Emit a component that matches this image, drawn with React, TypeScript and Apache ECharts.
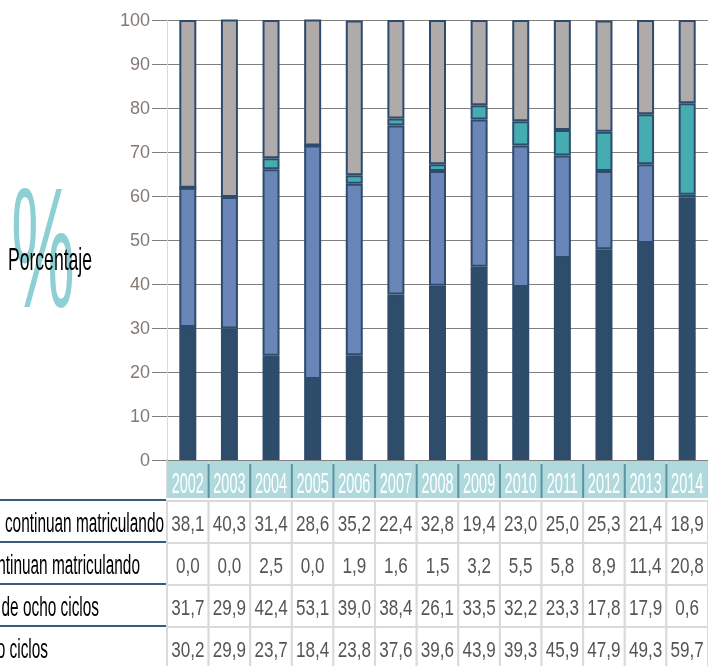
import React, { useEffect, useRef } from "react";
import * as echarts from "echarts";

const years = ["2002", "2003", "2004", "2005", "2006", "2007", "2008", "2009", "2010", "2011", "2012", "2013", "2014"];
const rowLabels = [
  "No egresados que continuan matriculando",
  "Egresados que continuan matriculando",
  "Egresados en más de ocho ciclos",
  "Egresados en ocho ciclos",
];
const noEgresadosContinuan = [38.1, 40.3, 31.4, 28.6, 35.2, 22.4, 32.8, 19.4, 23.0, 25.0, 25.3, 21.4, 18.9];
const egresadosContinuan = [0.0, 0.0, 2.5, 0.0, 1.9, 1.6, 1.5, 3.2, 5.5, 5.8, 8.9, 11.4, 20.8];
const masDeOchoCiclos = [31.7, 29.9, 42.4, 53.1, 39.0, 38.4, 26.1, 33.5, 32.2, 23.3, 17.8, 17.9, 0.6];
const enOchoCiclos = [30.2, 29.9, 23.7, 18.4, 23.8, 37.6, 39.6, 43.9, 39.3, 45.9, 47.9, 49.3, 59.7];
const yTicks = [0, 10, 20, 30, 40, 50, 60, 70, 80, 90, 100];

const tableRows = [noEgresadosContinuan, egresadosContinuan, masDeOchoCiclos, enOchoCiclos];
const FONT = "Liberation Sans";

export default function App() {
  const ref = useRef<HTMLDivElement>(null);
  useEffect(() => {
    document.body.style.margin = "0";
    const chart = echarts.init(ref.current!, null, { renderer: "svg" });
    const headerTop = 461;
    const headerH = 37;
    const rowTop = 501;
    const rowH = 42;
    const fmt = (v: number) => v.toFixed(1).replace(".", ",");

    const barSeries = [
      { name: rowLabels[3], data: enOchoCiclos, color: "#2d4d6b" },
      { name: rowLabels[2], data: masDeOchoCiclos, color: "#6a86b8" },
      { name: rowLabels[1], data: egresadosContinuan, color: "#45adb2" },
      { name: rowLabels[0], data: noEgresadosContinuan, color: "#b0abab" },
    ].map((s) => ({
      name: s.name,
      type: "bar",
      stack: "total",
      data: s.data,
      barWidth: 17,
      silent: true,
      itemStyle: { color: s.color, borderColor: "#2f4b6b", borderWidth: 2 },
    }));

    const tableSeries = {
      type: "custom",
      silent: true,
      clip: false,
      z: 5,
      data: years.map((_, i) => [i, 0]),
      renderItem: (params: any, api: any) => {
        const i = api.value(0);
        const cx = api.coord([i, 0])[0];
        const w = api.size([1, 0])[0];
        const left = cx - w / 2;
        const children: any[] = [];
        children.push({
          type: "rect",
          shape: { x: left, y: headerTop, width: w, height: headerH },
          style: { fill: "#afd9dd" },
        });
        if (i > 0) {
          children.push({
            type: "line",
            shape: { x1: left, y1: headerTop + 3, x2: left, y2: headerTop + headerH },
            style: { stroke: "#5b93a2", lineWidth: 2 },
          });
        } else {
          children.push({
            type: "line",
            shape: { x1: left, y1: headerTop - 2, x2: left, y2: headerTop + headerH },
            style: { stroke: "#cfcfcf", lineWidth: 1.5 },
          });
        }
        children.push({
          type: "text",
          x: cx,
          y: headerTop + 21.5,
          scaleX: 0.5,
          style: {
            text: years[i],
            x: 0,
            y: 0,
            align: "center",
            verticalAlign: "middle",
            fill: "#ffffff",
            fontSize: 29,
            fontFamily: FONT,
          },
        });
        tableRows.forEach((row, r) => {
          children.push({
            type: "rect",
            shape: { x: left, y: rowTop + rowH * r, width: w, height: rowH },
            style: { fill: "#ffffff", stroke: "#dadada", lineWidth: 2 },
          });
          children.push({
            type: "text",
            x: cx,
            y: rowTop + rowH * r + 22.5,
            scaleX: 0.76,
            style: {
              text: fmt(row[i]),
              x: 0,
              y: 0,
              align: "center",
              verticalAlign: "middle",
              fill: "#555555",
              fontSize: 22.5,
              fontFamily: FONT,
            },
          });
        });
        return { type: "group", children };
      },
    };

    const labelEnds = [164, 140, 99, 48];
    const graphic: any[] = [
      {
        type: "text",
        x: 43,
        y: 248,
        scaleX: 0.42,
        z: 1,
        style: {
          text: "%",
          x: 0,
          y: 0,
          align: "center",
          verticalAlign: "middle",
          fill: "#8ecfd3",
          fontSize: 170,
          fontFamily: FONT,
        },
      },
      {
        type: "text",
        x: 50,
        y: 259,
        scaleX: 0.55,
        z: 2,
        style: {
          text: "Porcentaje",
          x: 0,
          y: 0,
          align: "center",
          verticalAlign: "middle",
          fill: "#000000",
          fontSize: 32,
          fontFamily: FONT,
        },
      },
    ];
    rowLabels.forEach((lab, r) => {
      graphic.push({
        type: "line",
        shape: { x1: 0, y1: rowTop - 1 + rowH * r, x2: 166, y2: rowTop - 1 + rowH * r },
        style: { stroke: "#3a5a78", lineWidth: 2 },
      });
      graphic.push({
        type: "text",
        x: labelEnds[r],
        y: rowTop + rowH * r + 21.5,
        scaleX: 0.55,
        style: {
          text: lab,
          x: 0,
          y: 0,
          align: "right",
          verticalAlign: "middle",
          fill: "#000000",
          fontSize: 28,
          fontFamily: FONT,
        },
      });
    });

    chart.setOption({
      animation: false,
      grid: { left: 167, top: 20, width: 543, height: 440 },
      xAxis: {
        type: "category",
        data: years,
        axisLine: { show: false },
        axisTick: { show: false },
        axisLabel: { show: false },
        splitLine: { show: false },
      },
      yAxis: {
        type: "value",
        min: yTicks[0],
        max: yTicks[yTicks.length - 1],
        interval: 10,
        axisLine: { show: true, lineStyle: { color: "#d9d9d9", width: 1 } },
        axisTick: { show: true, length: 15, lineStyle: { color: "#808080" } },
        splitLine: { show: true, lineStyle: { color: "#808080", width: 1 } },
        axisLabel: { margin: 17, color: "#857a73", fontSize: 18, fontFamily: FONT },
      },
      series: [...barSeries, tableSeries],
      graphic,
    });
    return () => chart.dispose();
  }, []);
  return <div ref={ref} style={{ position: "fixed", left: 0, top: 0, width: 708, height: 666 }} />;
}
